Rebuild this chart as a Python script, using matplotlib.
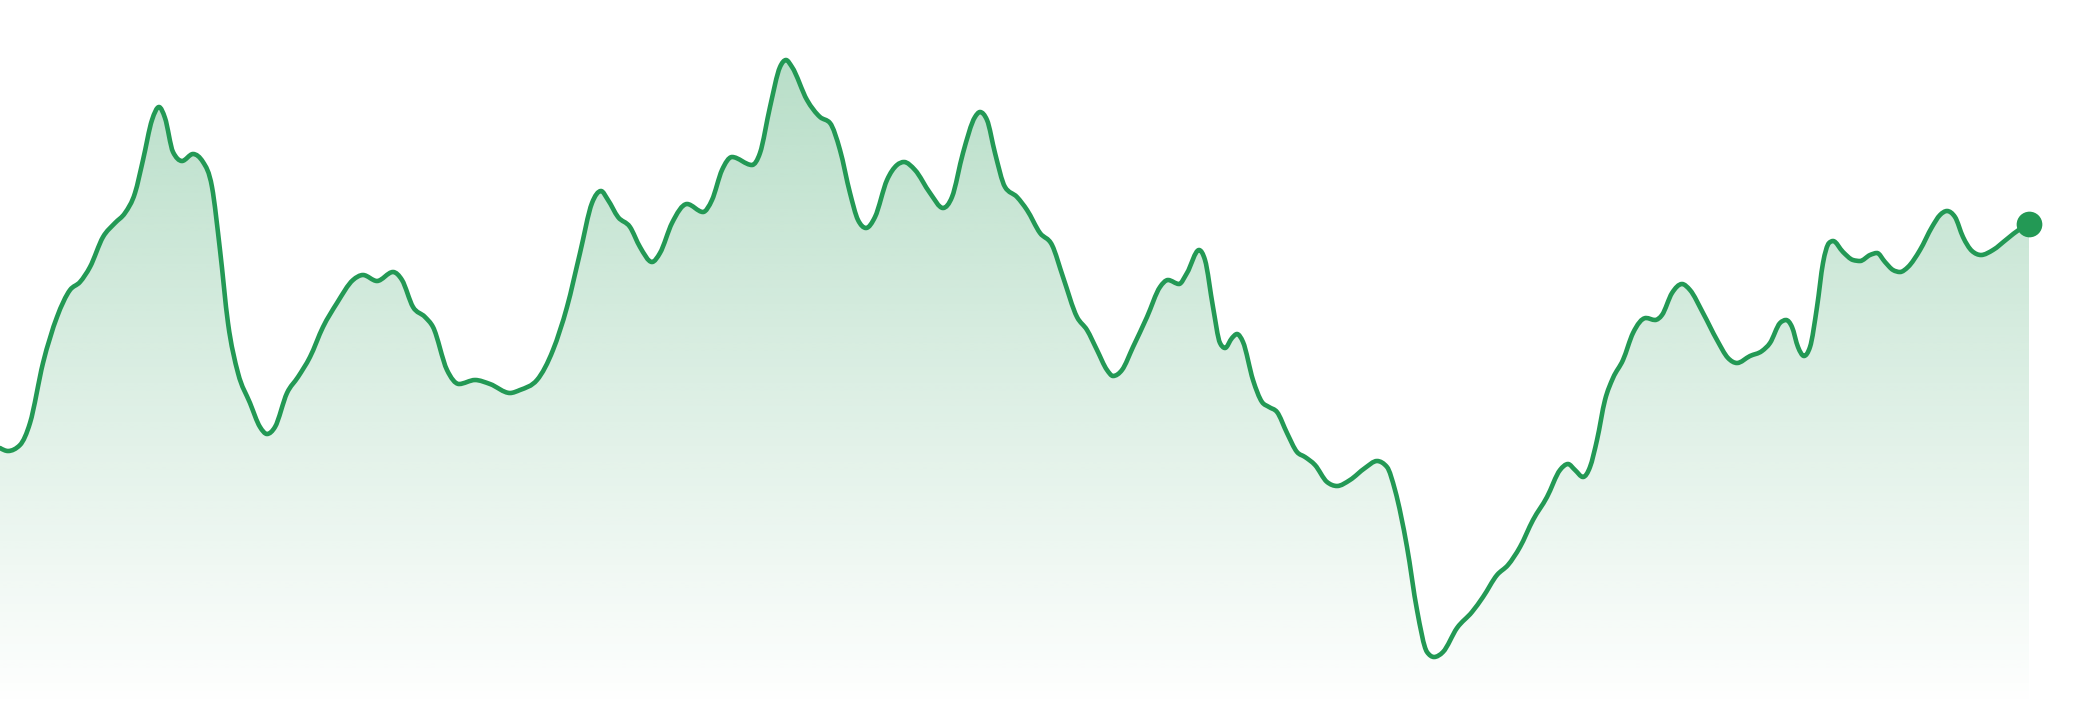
import numpy as np
import matplotlib
matplotlib.use("Agg")
import matplotlib.pyplot as plt
from matplotlib.path import Path
from matplotlib.patches import PathPatch

# ---- data (time index, value) ----
t = [0, 8, 20, 30, 43, 57, 70, 80, 90, 103, 115, 125, 135, 143, 152, 159, 165, 173, 182, 193,
     203, 212, 220, 228, 238, 250, 260, 267, 275, 287, 298, 310, 323, 337, 353, 363, 377, 393,
     402, 413, 425, 433, 447, 459, 475, 490, 510,
     520, 537, 553, 567, 580, 592, 601, 608, 618, 630, 640, 652, 660, 672, 687, 703, 712, 722,
     732, 752, 760, 770, 780, 786, 792, 807, 820, 830, 840, 850, 858, 866, 875, 887, 897, 904,
     915, 930, 943, 952, 963, 975, 980, 987, 995, 1005, 1017, 1027,
     1040, 1052, 1063, 1077, 1087, 1097, 1107, 1113, 1122, 1133, 1147, 1160, 1168, 1179, 1187,
     1199, 1205, 1213, 1220, 1225, 1232, 1237, 1243, 1253, 1262, 1269, 1277, 1287, 1297, 1305,
     1315, 1327, 1337, 1350, 1365, 1377, 1387, 1395, 1407, 1417, 1427, 1434, 1443, 1457, 1472,
     1483, 1497, 1508, 1520, 1533, 1547,
     1560, 1568, 1575, 1583, 1590, 1597, 1605, 1613, 1623, 1633, 1646, 1655, 1662, 1672, 1682,
     1690, 1703, 1717, 1728, 1737, 1750, 1762, 1770, 1780, 1786, 1792, 1798, 1804, 1810, 1817,
     1823, 1829, 1833, 1843, 1853, 1860, 1870, 1877, 1885, 1893, 1900, 1908, 1920, 1932, 1940,
     1947, 1955, 1963, 1972, 1981, 1993, 2007, 2020, 2029]

value = [260, 257, 263, 285, 345, 391, 418, 426, 441, 471, 485, 495, 515, 548, 588, 601, 590, 556,
         547, 554, 546, 521, 458, 385, 335, 305, 281, 274, 281, 315, 331, 351, 381, 405, 428, 433,
         427, 436, 428, 401, 391, 381, 338, 324, 328, 324, 315,
         318, 328, 358, 401, 455, 505, 517, 508, 491, 481, 461, 446, 455, 485, 504, 496, 508, 538,
         551, 543, 555, 601, 641, 648, 641, 608, 591, 585, 558, 515, 488, 480, 491, 528, 543, 546,
         538, 515, 500, 511, 555, 591, 596, 588, 555, 521, 511, 498,
         475, 463, 431, 391, 378, 358, 338, 332, 338, 361, 391, 421, 428, 424, 435, 458, 448, 401,
         365, 360, 370, 374, 366, 328, 306, 301, 296, 275, 256, 251, 243, 226, 222, 228, 240, 247,
         241, 218, 161, 98, 56, 51, 56, 80, 96, 111, 133, 143, 161, 188, 211,
         238, 244, 238, 231, 241, 268, 308, 330, 348, 375, 390, 388, 393, 415, 424, 418, 395, 368,
         350, 345, 352, 357, 365, 385, 388, 381, 361, 352, 361, 401, 445, 465, 467, 456, 448, 447,
         453, 455, 446, 438, 436, 441, 458, 481, 493, 497, 491, 471, 457, 453, 458, 469, 479, 484]

LINE_COLOR = "#239955"
FILL_RGB = (34 / 255, 153 / 255, 84 / 255)


def monotone_path(xs, ys):
    """Bezier path following d3.curveMonotoneX."""
    xs = np.asarray(xs, float)
    ys = np.asarray(ys, float)
    n = len(xs)
    sgn = lambda v: -1.0 if v < 0 else 1.0
    tang = np.zeros(n)
    for i in range(1, n - 1):
        h0 = xs[i] - xs[i - 1]
        h1 = xs[i + 1] - xs[i]
        s0 = (ys[i] - ys[i - 1]) / h0
        s1 = (ys[i + 1] - ys[i]) / h1
        p = (s0 * h1 + s1 * h0) / (h0 + h1)
        tang[i] = (sgn(s0) + sgn(s1)) * min(abs(s0), abs(s1), 0.5 * abs(p))
    h = xs[1] - xs[0]
    tang[0] = (3 * (ys[1] - ys[0]) / h - tang[1]) / 2
    h = xs[-1] - xs[-2]
    tang[-1] = (3 * (ys[-1] - ys[-2]) / h - tang[-2]) / 2
    verts = [(xs[0], ys[0])]
    codes = [Path.MOVETO]
    for i in range(n - 1):
        dx = (xs[i + 1] - xs[i]) / 3
        verts += [(xs[i] + dx, ys[i] + dx * tang[i]),
                  (xs[i + 1] - dx, ys[i + 1] - dx * tang[i + 1]),
                  (xs[i + 1], ys[i + 1])]
        codes += [Path.CURVE4] * 3
    return verts, codes


fig = plt.figure(figsize=(20.8, 7.2), dpi=100)
ax = fig.add_axes([0, 0, 1, 1])
ax.set_xlim(0, 2080)
ax.set_ylim(-12, 708)
ax.axis("off")

verts, codes = monotone_path(t, value)
baseline = 0
fill_verts = verts + [(t[-1], baseline), (t[0], baseline), (t[0], value[0])]
fill_codes = codes + [Path.LINETO, Path.LINETO, Path.CLOSEPOLY]
fill_patch = PathPatch(Path(fill_verts, fill_codes), facecolor="none", edgecolor="none")
ax.add_patch(fill_patch)

# vertical gradient for the area
top = 708
ny = 400
alphas = np.linspace(0.35, 0.0, ny)[:, None]
grad = np.zeros((ny, 2, 4))
grad[..., 0] = FILL_RGB[0]
grad[..., 1] = FILL_RGB[1]
grad[..., 2] = FILL_RGB[2]
grad[..., 3] = alphas
im = ax.imshow(grad, extent=[t[0], t[-1], baseline, top], origin="upper",
               aspect="auto", interpolation="bilinear", zorder=1)
im.set_clip_path(fill_patch)

line_patch = PathPatch(Path(verts, codes), facecolor="none", edgecolor=LINE_COLOR,
                       linewidth=3.3, capstyle="round", joinstyle="round", zorder=3)
ax.add_patch(line_patch)

ax.plot([t[-1]], [value[-1]], "o", color=LINE_COLOR, markersize=18.5,
        markeredgewidth=0, zorder=4, clip_on=False)

ax.set_xlim(0, 2080)
ax.set_ylim(-12, 708)
fig.savefig("out.png", dpi=100)
